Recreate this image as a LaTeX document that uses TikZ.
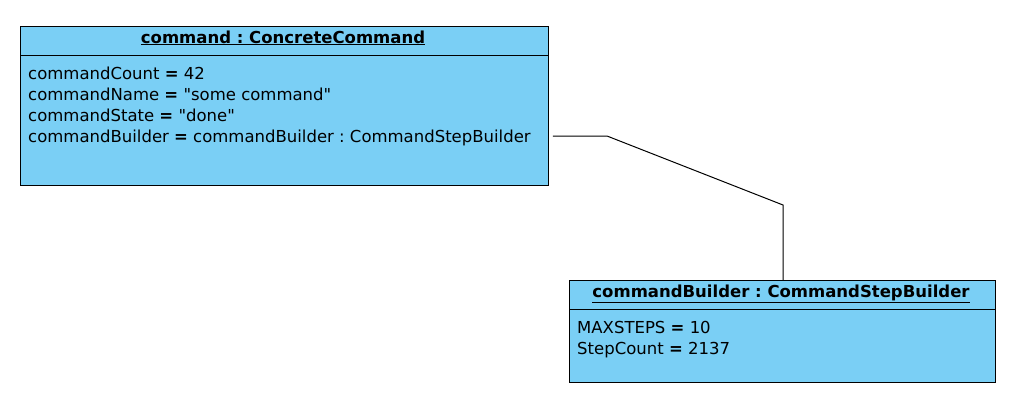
\documentclass[tikz,border=0pt]{standalone}
\usepackage{fontspec}
\setmainfont{DejaVu Sans}[Ligatures=TeXOff]
\definecolor{objfill}{HTML}{7ACFF5}
\newcommand{\eqb}{\textbf{=}}
\frenchspacing
\begin{document}
\begin{tikzpicture}[x=1pt,y=-1pt,
  objbox/.style={draw=black,fill=objfill,line width=0.9pt,anchor=north west,inner sep=0pt},
  title/.style={font=\fontsize{16.5}{19}\selectfont\bfseries\frenchspacing,anchor=base,inner sep=0pt},
  attr/.style={font=\fontsize{16.5}{21}\selectfont\frenchspacing,anchor=base west,inner sep=0pt},
  link/.style={draw=black,line width=1pt}]
\useasboundingbox (0,0) rectangle (1017,405);
% object 1
\node[objbox,minimum width=528pt,minimum height=159pt] (cmd) at (20,26) {};
\draw[line width=0.9pt] (20,55) -- (548,55);
\node[title] (cmdtitle) at (283,43) {\underline{command : ConcreteCommand}};
\node[attr] (a1) at (28,79) {commandCount \eqb{} 42};
\node[attr] (a2) at (28,100) {commandName \eqb{} "some command"};
\node[attr] (a3) at (28,121) {commandState \eqb{} "done"};
\node[attr] (a4) at (28,142) {commandBuilder \eqb{} commandBuilder : CommandStepBuilder};
% object 2
\node[objbox,minimum width=426pt,minimum height=102pt] (csb) at (569,280) {};
\draw[line width=0.9pt] (569,309) -- (995,309);
\node[title] (csbtitle) at (781,297) {\underline{commandBuilder : CommandStepBuilder}};
\node[attr] (b1) at (577,333) {MAXSTEPS \eqb{} 10};
\node[attr] (b2) at (577,354) {StepCount \eqb{} 2137};
% connector
\coordinate (p0) at ([xshift=4pt]cmd.east |- 0,136);
\coordinate (p1) at (607,136);
\coordinate (p2) at (783,205);
\draw[link] (p0) -- (p1) -- (p2) -- (csb.north -| p2);
\end{tikzpicture}
\end{document}
